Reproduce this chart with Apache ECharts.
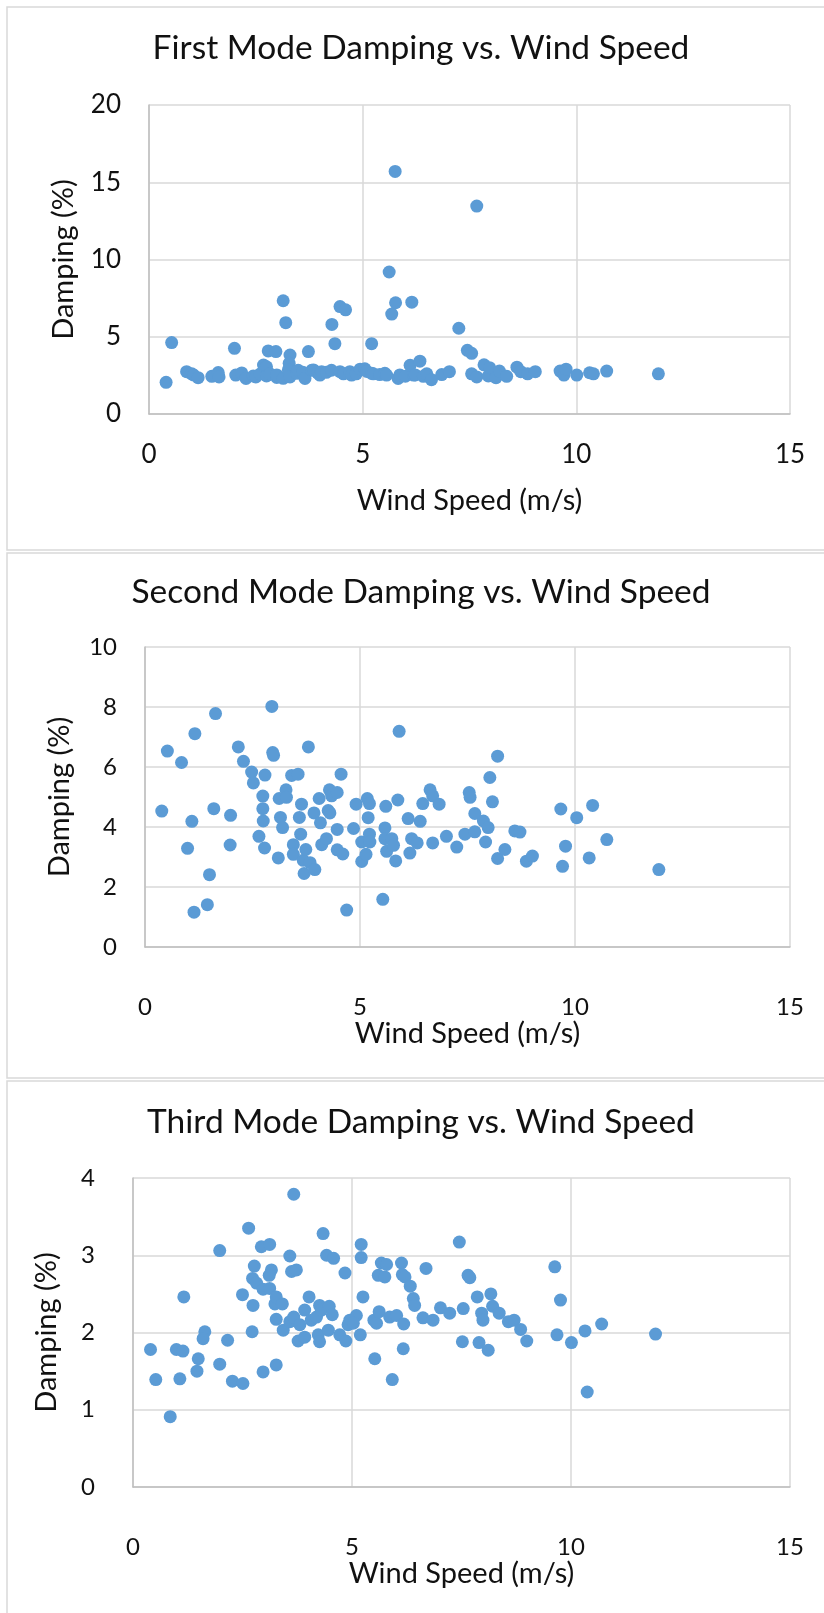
<!DOCTYPE html>
<html>
<head>
<meta charset="utf-8">
<script src="https://cdn.jsdelivr.net/npm/echarts@6/dist/echarts.min.js"></script>
<style>
html,body{margin:0;padding:0;background:#fff;}
#c{width:824px;height:1613px;}
</style>
</head>
<body>
<div id="c"></div>
<script>
// ---- Data (wind speed m/s, damping %) ----
const titles = ['First Mode Damping vs. Wind Speed', 'Second Mode Damping vs. Wind Speed', 'Third Mode Damping vs. Wind Speed'];
const xTicks = [0, 5, 10, 15];
const yMax = [20, 10, 4];
const yStep = [5, 2, 1];

const mode1Points = [[0.40,2.05],[0.53,4.62],[0.88,2.74],[1.00,2.60],[1.04,2.53],[1.15,2.35],[1.47,2.44],[1.62,2.68],[1.64,2.40],[2.00,4.25],[2.03,2.52],[2.17,2.66],[2.27,2.30],[2.44,2.46],[2.50,2.40],[2.60,2.59],[2.68,3.17],[2.75,3.06],[2.79,4.08],[2.75,2.46],[2.83,2.60],[2.97,4.04],[2.99,2.37],[2.99,2.53],[3.14,2.31],[3.14,7.33],[3.20,5.91],[3.30,3.82],[3.28,3.28],[3.26,2.85],[3.30,2.40],[3.46,2.63],[3.49,2.83],[3.60,2.70],[3.65,2.30],[3.73,4.04],[3.81,2.83],[3.85,2.85],[3.95,2.65],[4.00,2.52],[4.04,2.74],[4.15,2.70],[4.27,2.83],[4.28,5.80],[4.35,4.55],[4.47,2.74],[4.47,6.95],[4.55,2.60],[4.60,6.74],[4.70,2.74],[4.74,2.52],[4.85,2.60],[4.94,2.90],[5.05,2.93],[5.10,2.75],[5.21,4.55],[5.21,2.63],[5.25,2.60],[5.40,2.55],[5.52,2.63],[5.56,2.52],[5.62,9.19],[5.68,6.47],[5.76,15.70],[5.77,7.20],[5.83,2.30],[5.87,2.53],[6.00,2.45],[6.11,3.15],[6.15,7.24],[6.19,2.52],[6.23,2.53],[6.34,3.42],[6.42,2.44],[6.50,2.60],[6.61,2.22],[6.85,2.55],[7.03,2.74],[7.25,5.55],[7.45,4.12],[7.55,3.93],[7.55,2.60],[7.67,13.46],[7.67,2.40],[7.84,3.18],[7.94,2.46],[7.97,3.00],[8.12,2.35],[8.20,2.78],[8.37,2.44],[8.61,3.03],[8.70,2.74],[8.86,2.60],[9.04,2.74],[9.62,2.78],[9.71,2.52],[9.76,2.90],[10.01,2.52],[10.31,2.67],[10.40,2.60],[10.71,2.78],[11.92,2.60]];

const mode2Points = [[0.39,4.53],[0.52,6.53],[0.85,6.15],[0.99,3.29],[1.09,4.19],[1.16,7.11],[1.14,1.16],[1.45,1.41],[1.50,2.41],[1.60,4.61],[1.64,7.78],[1.98,3.40],[1.99,4.39],[2.17,6.67],[2.29,6.19],[2.48,5.83],[2.52,5.47],[2.65,3.69],[2.74,5.03],[2.74,4.61],[2.75,4.20],[2.78,3.30],[2.79,5.73],[2.95,8.02],[2.97,6.48],[2.99,6.39],[3.10,2.97],[3.12,4.95],[3.15,4.32],[3.20,3.98],[3.28,5.24],[3.29,4.99],[3.41,5.72],[3.56,5.76],[3.45,3.41],[3.45,3.09],[3.59,4.32],[3.62,3.76],[3.64,4.76],[3.68,2.89],[3.70,2.45],[3.74,3.25],[3.80,6.67],[3.84,2.81],[3.95,2.58],[3.93,4.47],[4.05,4.95],[4.08,4.14],[4.11,3.41],[4.22,3.61],[4.26,4.55],[4.29,5.24],[4.30,4.47],[4.34,5.04],[4.47,5.15],[4.47,3.92],[4.47,3.24],[4.60,3.10],[4.56,5.76],[4.69,1.23],[4.85,3.95],[4.91,4.76],[5.04,2.85],[5.04,3.50],[5.14,3.09],[5.17,4.95],[5.19,4.31],[5.22,4.78],[5.22,3.76],[5.23,3.50],[5.53,1.59],[5.58,3.97],[5.60,4.69],[5.58,3.61],[5.62,3.19],[5.74,3.61],[5.78,3.39],[5.83,2.87],[5.88,4.90],[5.91,7.19],[6.12,4.28],[6.20,3.61],[6.16,3.13],[6.33,3.47],[6.40,4.19],[6.46,4.78],[6.63,5.24],[6.69,5.04],[6.69,3.47],[6.84,4.76],[7.01,3.69],[7.25,3.33],[7.44,3.76],[7.54,5.15],[7.56,4.99],[7.67,4.45],[7.67,3.84],[7.87,4.20],[7.98,3.98],[7.92,3.50],[8.02,5.65],[8.08,4.84],[8.20,6.36],[8.20,2.95],[8.37,3.25],[8.60,3.87],[8.72,3.83],[8.87,2.86],[9.01,3.03],[9.67,4.60],[9.78,3.36],[9.71,2.69],[10.04,4.31],[10.33,2.97],[10.41,4.72],[10.74,3.58],[11.95,2.58]];

const mode3Points = [[0.40,1.78],[0.52,1.39],[0.85,0.91],[0.99,1.78],[1.14,1.76],[1.07,1.40],[1.16,2.46],[1.49,1.66],[1.46,1.50],[1.64,2.01],[1.60,1.92],[1.98,3.06],[1.98,1.59],[2.16,1.90],[2.27,1.37],[2.51,1.34],[2.50,2.49],[2.64,3.35],[2.72,2.01],[2.74,2.35],[2.73,2.70],[2.77,2.86],[2.82,2.64],[2.93,3.11],[3.12,3.14],[2.97,1.49],[2.97,2.56],[3.12,2.57],[3.16,2.81],[3.11,2.74],[3.24,2.37],[3.27,2.46],[3.27,1.58],[3.41,2.37],[3.27,2.17],[3.43,2.03],[3.58,2.14],[3.58,2.99],[3.62,2.79],[3.73,2.81],[3.67,3.79],[3.67,2.20],[3.81,2.10],[3.77,1.89],[3.92,1.94],[3.92,2.29],[4.02,2.46],[4.07,2.16],[4.19,2.20],[4.26,2.35],[4.30,2.29],[4.23,1.97],[4.26,1.88],[4.34,3.28],[4.42,3.00],[4.58,2.96],[4.48,2.34],[4.55,2.23],[4.46,2.03],[4.72,1.97],[4.86,1.89],[4.84,2.77],[4.95,2.16],[5.10,2.22],[4.91,2.10],[5.03,2.12],[5.19,1.97],[5.21,3.14],[5.21,2.97],[5.25,2.46],[5.52,1.66],[5.50,2.16],[5.56,2.12],[5.62,2.27],[5.67,2.90],[5.79,2.88],[5.60,2.74],[5.75,2.72],[5.86,2.20],[6.02,2.22],[5.92,1.39],[6.13,2.90],[6.15,2.75],[6.21,2.72],[6.17,1.79],[6.18,2.11],[6.33,2.60],[6.40,2.44],[6.43,2.35],[6.62,2.19],[6.85,2.16],[6.69,2.83],[7.02,2.32],[7.23,2.25],[7.45,3.17],[7.52,1.88],[7.54,2.31],[7.65,2.74],[7.69,2.71],[7.86,2.46],[7.90,1.87],[8.11,1.77],[7.96,2.25],[7.99,2.16],[8.17,2.50],[8.21,2.34],[8.36,2.25],[8.57,2.14],[8.70,2.16],[8.85,2.04],[8.99,1.89],[9.63,2.85],[9.76,2.42],[9.68,1.97],[10.01,1.87],[10.32,2.02],[10.37,1.23],[10.70,2.11],[11.93,1.98]];

const allPoints = [mode1Points, mode2Points, mode3Points];

// ---- Layout ----
const FONT = 'Lato, "Open Sans", sans-serif';
const TEXT = '#111';
const grids = [
  {left:149, top:105, width:641, height:309},
  {left:145, top:647, width:645, height:300},
  {left:133, top:1178, width:657, height:309}
];
const titleTop = [31, 575, 1105];
const tickSize = [26, 24, 24];
const xLabelMargin = [28, 48, 48];
const yLabelMargin = [28, 28, 38];
const yNameGap = [71, 71, 72];
const panels = [[7, 550], [553, 1078], [1081, 1640]];

const chart = echarts.init(document.getElementById('c'), null, {renderer:'canvas'});

const option = {
  animation:false,
  backgroundColor:'#fff',
  graphic: panels.map(p => ({
    type:'rect', shape:{x:7, y:p[0], width:830, height:p[1]-p[0]},
    style:{fill:'none', stroke:'#d9d9d9', lineWidth:1.5}, z:-10
  })),
  title: titles.map((t,i) => ({
    text:t, left:421, top:titleTop[i], textAlign:'center', padding:0,
    textStyle:{fontFamily:FONT, fontSize:33.5, fontWeight:'normal', color:TEXT}
  })),
  grid: grids.map(g => Object.assign({containLabel:false}, g)),
  xAxis: grids.map((g,i) => ({
    type:'value', gridIndex:i, min:xTicks[0], max:xTicks[xTicks.length-1], interval:xTicks[1]-xTicks[0],
    name:'Wind Speed (m/s)', nameLocation:'middle', nameGap: 72, nameMoveOverlap:false,
    nameTextStyle:{fontFamily:FONT, fontSize:29, color:TEXT},
    axisLine:{show:true, lineStyle:{color:'#bfbfbf', width:1.5}},
    axisTick:{show:false},
    axisLabel:{fontFamily:FONT, fontSize:tickSize[i], color:TEXT, margin:xLabelMargin[i]},
    splitLine:{show:true, lineStyle:{color:'#d9d9d9', width:1.5}}
  })),
  yAxis: grids.map((g,i) => ({
    type:'value', gridIndex:i, min:0, max:yMax[i], interval:yStep[i],
    name:'Damping (%)', nameLocation:'middle', nameGap: yNameGap[i], nameMoveOverlap:false,
    nameTextStyle:{fontFamily:FONT, fontSize:29, color:TEXT},
    axisLine:{show:true, lineStyle:{color:'#bfbfbf', width:1.5}},
    axisTick:{show:false},
    axisLabel:{fontFamily:FONT, fontSize:tickSize[i], color:TEXT, margin:yLabelMargin[i]},
    splitLine:{show:true, lineStyle:{color:'#d9d9d9', width:1.5}}
  })),
  series: allPoints.map((pts,i) => ({
    type:'scatter', xAxisIndex:i, yAxisIndex:i, data:pts,
    symbolSize:13, itemStyle:{color:'#5b9bd5', opacity:1}
  }))
};
chart.setOption(option);
</script>
</body>
</html>
